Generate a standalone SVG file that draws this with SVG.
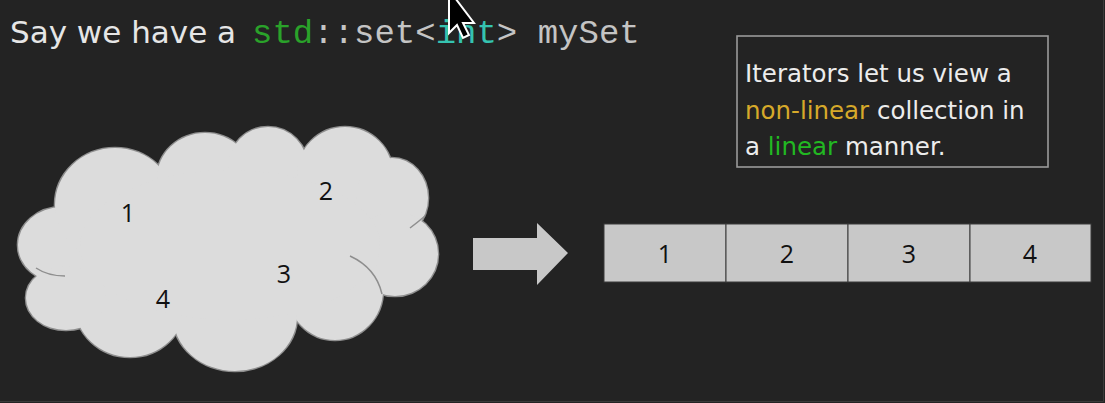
<svg xmlns="http://www.w3.org/2000/svg" xmlns:xlink="http://www.w3.org/1999/xlink" width="1105" height="403" viewBox="0 0 1105 403">
<style>
.sans{font-family:"DejaVu Sans","Liberation Sans",sans-serif;}
.mono{font-family:"Liberation Mono","DejaVu Sans Mono",monospace;font-size:34px;}
.num{font-family:"Open Sans","Liberation Sans",sans-serif;font-size:25px;fill:#111;text-anchor:middle;}
.cell{fill:#c8c8c8;stroke:#3a3a3a;stroke-width:1;}
.hook{fill:none;stroke:#8e8e8e;stroke-width:1.5;}
</style>
<defs>
<g id="lobes">
<ellipse cx="62" cy="245" rx="44" ry="38"/>
<ellipse cx="115" cy="205" rx="60" ry="57"/>
<ellipse cx="205" cy="178" rx="48" ry="45"/>
<ellipse cx="268" cy="168" rx="40" ry="41"/>
<ellipse cx="345" cy="175" rx="48" ry="48"/>
<ellipse cx="392" cy="198" rx="36" ry="40"/>
<ellipse cx="395" cy="254" rx="43" ry="42"/>
<ellipse cx="335" cy="290" rx="48" ry="50"/>
<ellipse cx="235" cy="316" rx="62" ry="55"/>
<ellipse cx="130" cy="305" rx="55" ry="52"/>
<ellipse cx="66" cy="298" rx="40" ry="32"/>
</g>
</defs>
<rect width="1105" height="403" fill="#232323"/>
<path d="M1103.5 0V401.5H0" fill="none" stroke="#3a3a3a" stroke-width="1"/>

<g id="title">
<text x="10" y="43" class="sans" font-size="31" fill="#e6e6e6">Say we have a</text>
<text x="252" y="43" class="mono"><tspan fill="#2aa22a">std</tspan><tspan fill="#c4c4c4">::set&lt;</tspan><tspan fill="#35c3b0">int</tspan><tspan fill="#c4c4c4">&gt; mySet</tspan></text>
</g>

<g id="note">
<rect x="737" y="36" width="311" height="131" fill="none" stroke="#9a9a9a" stroke-width="1.6"/>
<text class="sans" font-size="24.5" fill="#ececec">
<tspan x="745" y="82">Iterators let us view a</tspan>
<tspan x="745" y="118.5"><tspan fill="#d6a92a">non-linear</tspan> collection in</tspan>
<tspan x="745" y="155">a <tspan fill="#22b822">linear</tspan> manner.</tspan>
</text>
</g>

<g id="cloud">
<use xlink:href="#lobes" fill="#dcdcdc" stroke="#8e8e8e" stroke-width="2.6"/>
<use xlink:href="#lobes" fill="#dcdcdc"/>
<ellipse cx="230" cy="245" rx="150" ry="75" fill="#dcdcdc"/>
<path class="hook" d="M36 268 Q48 276 65 276"/>
<path class="hook" d="M350 256 Q376 268 382 294"/>
<path class="hook" d="M410 228 Q418 222 425 216"/>
<text x="128" y="222" class="num">1</text>
<text x="326" y="200" class="num">2</text>
<text x="284" y="283" class="num">3</text>
<text x="163" y="308" class="num">4</text>
</g>

<g id="connectors">
<polygon points="473,238 537,238 537,223 568,253 537,285 537,270 473,270" fill="#c8c8c8"/>
</g>

<g id="array">
<rect class="cell" x="604" y="224" width="122" height="58"/>
<rect class="cell" x="726" y="224" width="122" height="58"/>
<rect class="cell" x="848" y="224" width="122" height="58"/>
<rect class="cell" x="970" y="224" width="121" height="58"/>
<text x="665" y="263" class="num">1</text>
<text x="787" y="263" class="num">2</text>
<text x="909" y="263" class="num">3</text>
<text x="1030" y="263" class="num">4</text>
</g>

<polygon points="449,-10 449,33 457,25 463,38 469,35 463,23 474,23" fill="#000" stroke="#fff" stroke-width="2" stroke-linejoin="miter"/>
</svg>
